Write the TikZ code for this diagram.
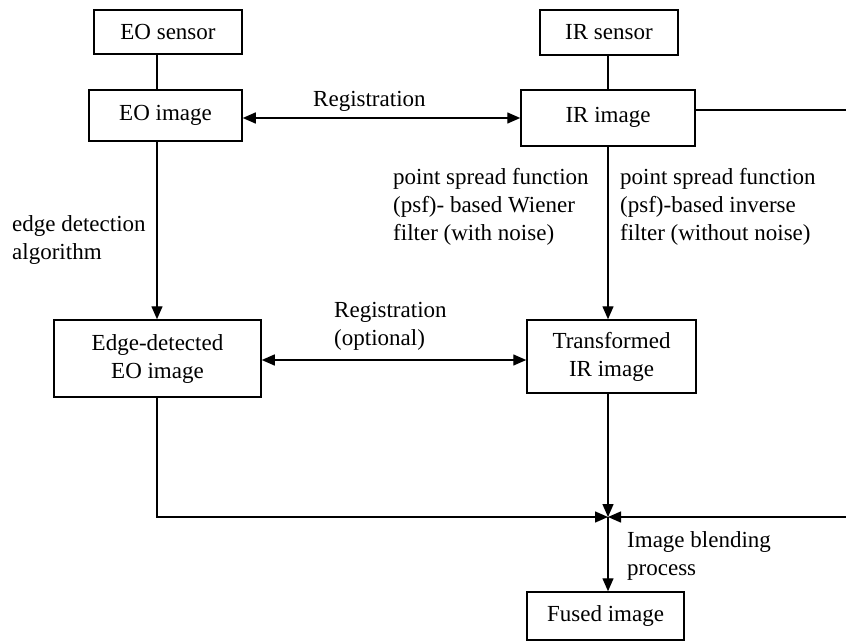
\documentclass[tikz,border=0pt]{standalone}
\usepackage{fontspec}
\setmainfont{Liberation Serif}
\usetikzlibrary{arrows.meta}
\begin{document}
\begin{tikzpicture}[x=1pt,y=-1pt,
  every node/.style={font=\fontsize{23}{28}\selectfont},
  box/.style={draw, line width=1.5pt, inner sep=0pt, align=center},
  lbl/.style={inner sep=0pt, align=left, anchor=west},
  link/.style={line width=1.4pt},
  arr/.style={link, -{Triangle[length=13pt,width=11pt]}},
  biarr/.style={link, {Triangle[length=13pt,width=11pt]}-{Triangle[length=13pt,width=11pt]}}]
\useasboundingbox (0,0) rectangle (846,642);

% blocks
\node[box, minimum width=148, minimum height=44] (eosens) at (168,32) {EO sensor};
\node[box, minimum width=153, minimum height=51] (eoimg) at (165.5,115.5) {EO image};
\node[box, minimum width=138, minimum height=45] (irsens) at (609,32.5) {IR sensor};
\node[box, minimum width=174, minimum height=56] (irimg) at (608,118) {\raisebox{6pt}{IR image}};
\node[box, minimum width=207, minimum height=77] (edge) at (157.5,358.5) {Edge-detected\\EO image};
\node[box, minimum width=169, minimum height=73] (trans) at (611.5,356.5) {Transformed\\IR image};
\node[box, minimum width=157, minimum height=48] (fused) at (605.5,616) {Fused image};

% helper coordinates
\coordinate (colL) at (157,0);
\coordinate (colR) at (608,0);
\coordinate (r1) at (0,118);
\coordinate (r2) at (0,360);
\coordinate (outA) at (846,110);
\coordinate (join) at (608,517);
\coordinate (inB) at (846,517);

% connectors
\draw[link] (eosens.south -| colL) -- (eoimg.north -| colL);
\draw[link] (irsens.south -| colR) -- (irimg.north -| colR);
\draw[biarr] (eoimg.east |- r1) -- (irimg.west |- r1);
\draw[link] (irimg.east |- outA) -- (outA);
\draw[arr] (eoimg.south -| colL) -- (edge.north -| colL);
\draw[arr] (irimg.south -| colR) -- (trans.north -| colR);
\draw[biarr] (edge.east |- r2) -- (trans.west |- r2);
\draw[arr] (edge.south -| colL) |- (join);
\draw[arr] (trans.south -| colR) -- (join);
\draw[arr] (inB) -- (join);
\draw[arr] (join) -- (fused.north -| colR);

% labels
\node[lbl] (lblreg1) at (313,101) {Registration};
\node[lbl] (lbledge) at (12,240) {edge detection\\algorithm};
\node[lbl] (lblpsfw) at (393,207) {point spread function\\(psf)- based Wiener\\filter (with noise)};
\node[lbl] (lblpsfi) at (620,207) {point spread function\\(psf)-based inverse\\filter (without noise)};
\node[lbl] (lblreg2) at (334,326) {Registration\\(optional)};
\node[lbl] (lblblend) at (627,556) {Image blending\\process};
\end{tikzpicture}
\end{document}
